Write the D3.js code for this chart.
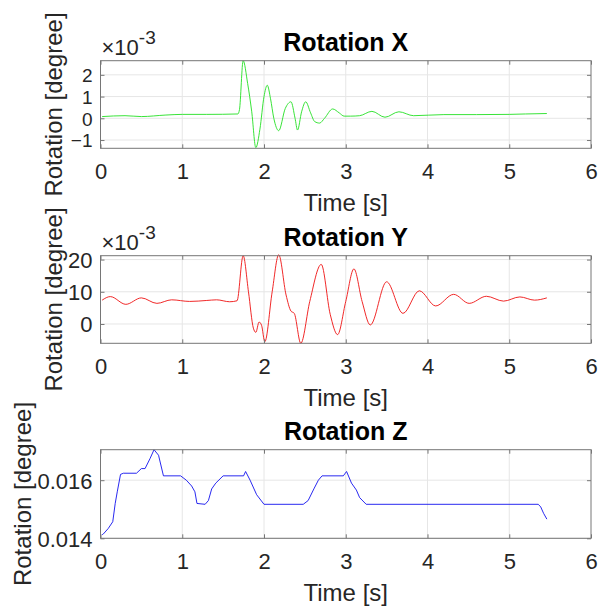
<!DOCTYPE html>
<html><head><meta charset="utf-8">
<script src="https://cdn.jsdelivr.net/npm/d3@7"></script>
<style>
body{margin:0;background:#fff}
svg{display:block}
text{font-family:"Liberation Sans",Arial,Helvetica,sans-serif}
</style>
</head><body>
<svg id="c" width="598" height="606"></svg>
<script>
// ---- data ----
const timeTicks = [0, 1, 2, 3, 4, 5, 6];

// Rotation X (values in 1e-3 degree)
const timeX = [0.02,0.3,0.5,0.8,1.0,1.3,1.68,1.70,1.745,1.80,1.85,1.90,1.95,2.0,2.04,2.08,2.12,2.18,2.26,2.33,2.38,2.41,2.46,2.51,2.57,2.62,2.68,2.74,2.84,2.92,2.98,3.06,3.17,3.32,3.48,3.65,3.83,4.2,4.6,5.0,5.2,5.46];
const rotX  = [0.08,0.12,0.08,0.15,0.18,0.18,0.2,0.4,2.65,1.6,0.3,-1.35,-0.5,1.0,1.52,0.9,0.0,-0.57,0.45,0.76,0.0,-0.54,0.3,0.76,0.25,-0.15,-0.22,0.0,0.43,0.25,0.1,0.1,0.12,0.32,0.05,0.3,0.12,0.17,0.17,0.18,0.2,0.22];
const ticksX = [-1, 0, 1, 2];

// Rotation Y (values in 1e-3 degree)
const timeY = [0.02,0.12,0.31,0.50,0.69,0.87,1.09,1.3,1.42,1.58,1.67,1.745,1.81,1.87,1.90,1.94,1.97,2.01,2.10,2.18,2.27,2.33,2.37,2.45,2.56,2.70,2.81,2.90,3.00,3.10,3.20,3.30,3.50,3.70,3.90,4.10,4.32,4.51,4.72,4.93,5.13,5.31,5.46];
const rotY  = [7.4,8.5,6.1,8.1,6.4,7.5,7.0,7.3,7.5,6.9,7.2,21.2,10,-1.3,-2.6,0.6,-0.4,-5.5,10,21.5,9,4,3.3,-6,7,18.5,3,-3.3,7,17.1,7,-0.3,13.1,3.3,10.3,5.6,9.2,6.4,8.6,7.1,8.4,7.4,8.1];
const ticksY = [0, 10, 20];

// Rotation Z (degree)
const timeZ = [0.02,0.035,0.095,0.15,0.18,0.205,0.245,0.28,0.44,0.50,0.545,0.605,0.655,0.71,0.77,0.98,1.05,1.115,1.155,1.18,1.28,1.32,1.36,1.41,1.50,1.75,1.775,1.83,1.91,2.00,2.48,2.54,2.61,2.665,2.71,2.97,3.01,3.07,3.13,3.17,3.25,5.355,5.385,5.42,5.46];
const rotZ  = [0.01412,0.01415,0.01434,0.01457,0.0152,0.0156,0.0162,0.01624,0.01624,0.0164,0.0164,0.01674,0.01705,0.01686,0.01615,0.01615,0.0160,0.0158,0.0156,0.0152,0.01517,0.0153,0.0157,0.0159,0.01615,0.01615,0.0163,0.0160,0.0155,0.01517,0.01517,0.0153,0.0157,0.0160,0.01615,0.01615,0.0163,0.0159,0.01566,0.0154,0.01517,0.01517,0.01508,0.01486,0.01466];
const ticksZ = [0.014, 0.016];

const titles = ["Rotation X", "Rotation Y", "Rotation Z"];
const colors = ["#22e022", "#ee1111", "#1111ee"];

// ---- layout ----
const svg = d3.select("#c");
const L = 100.5, R = 591;
const panels = [
  {t: timeX, v: rotX, dom: [-1.38, 2.65], ticks: ticksX, fmt: d3.format("d"), top: 60.7, bot: 148.3, exp: true, curve: d3.curveMonotoneX, ylx: 62, yfs: 19},
  {t: timeY, v: rotY, dom: [-6.0, 21.2], ticks: ticksY, fmt: d3.format("d"), top: 255.7, bot: 343.3, exp: true, curve: d3.curveMonotoneX, ylx: 62, yfs: 22},
  {t: timeZ, v: rotZ, dom: [0.014, 0.01705], ticks: ticksZ, fmt: d3.format(".3f"), top: 449.7, bot: 538.3, exp: false, curve: d3.curveLinear, ylx: 31, yfs: 22}
];
const axisCol = "#767676", gridCol = "#e6e6e6", textCol = "#262626";

const x = d3.scaleLinear().domain([0, 6]).range([L, R]);

panels.forEach((p, i) => {
  const y = d3.scaleLinear().domain(p.dom).range([p.bot, p.top]);
  const g = svg.append("g");

  // grid
  g.selectAll(".vg").data(timeTicks.slice(1, -1)).join("line")
    .attr("x1", d => x(d)).attr("x2", d => x(d)).attr("y1", p.top).attr("y2", p.bot)
    .attr("stroke", gridCol).attr("stroke-width", 1);
  g.selectAll(".hg").data(p.ticks).join("line")
    .attr("x1", L).attr("x2", R).attr("y1", d => y(d)).attr("y2", d => y(d))
    .attr("stroke", gridCol).attr("stroke-width", 1);

  // line
  const data = p.t.map((t, k) => [t, p.v[k]]);
  g.append("path").datum(data)
    .attr("fill", "none").attr("stroke", colors[i]).attr("stroke-width", 0.9)
    .attr("d", d3.line().x(d => x(d[0])).y(d => y(d[1])).curve(p.curve));

  // axes
  const ax = g.append("g").attr("transform", `translate(0,${p.bot})`)
    .call(d3.axisBottom(x).tickValues(timeTicks).tickSize(-4).tickPadding(15).tickFormat(d3.format("d")));
  const axT = g.append("g").attr("transform", `translate(0,${p.top})`)
    .call(d3.axisTop(x).tickValues(timeTicks).tickSize(-4).tickFormat(""));
  const ay = g.append("g").attr("transform", `translate(${L},0)`)
    .call(d3.axisLeft(y).tickValues(p.ticks).tickSize(-4).tickPadding(8).tickFormat(p.fmt));
  const ayR = g.append("g").attr("transform", `translate(${R},0)`)
    .call(d3.axisRight(y).tickValues(p.ticks).tickSize(-4).tickFormat(""));
  [ax, axT, ay, ayR].forEach(a => {
    a.select(".domain").remove();
    a.selectAll("line").attr("stroke", axisCol);
    a.selectAll("text").attr("fill", textCol).style("font-size", "22px").attr("font-family", null);
  });
  ay.selectAll("text").attr("dy", "0.36em").style("font-size", p.yfs + "px");

  // box
  g.append("rect").attr("x", L).attr("y", p.top).attr("width", R - L).attr("height", p.bot - p.top)
    .attr("fill", "none").attr("stroke", axisCol).attr("stroke-width", 1);

  // title
  g.append("text").attr("x", (L + R) / 2).attr("y", p.top - 10).attr("text-anchor", "middle")
    .style("font-size", "25px").style("font-weight", "bold").attr("fill", "#000").text(titles[i]);

  // xlabel
  g.append("text").attr("x", (L + R) / 2).attr("y", p.bot + 63).attr("text-anchor", "middle")
    .style("font-size", "24px").attr("fill", textCol).text("Time [s]");

  // ylabel
  g.append("text").attr("transform", `translate(${p.ylx},${(p.top + p.bot) / 2}) rotate(-90)`)
    .attr("text-anchor", "middle").style("font-size", "24px").attr("fill", textCol).text("Rotation [degree]");

  // exponent
  if (p.exp) {
    const e = g.append("text").attr("x", L + 1).attr("y", p.top - 6).attr("fill", textCol).style("font-size", "22px");
    e.append("tspan").text("×10");
    e.append("tspan").attr("dy", -11).style("font-size", "19px").text("-3");
  }
});
</script>
</body></html>
